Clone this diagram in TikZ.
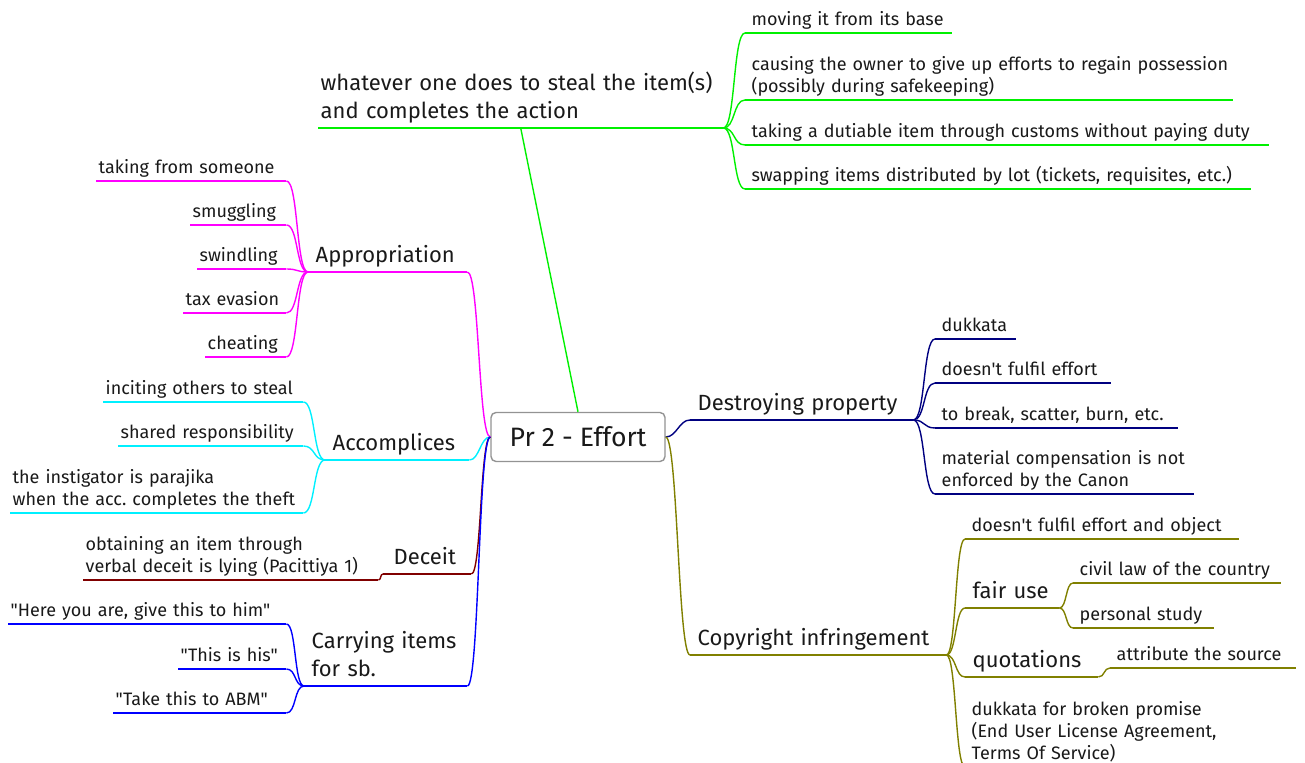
\documentclass[tikz,border=0pt]{standalone}
\usepackage{fontspec}
\newfontfamily\mapfont{Fira Sans}
\usepackage{tikz}
\usetikzlibrary{calc}
\frenchspacing

\definecolor{grn}{RGB}{0,240,0}
\definecolor{mag}{RGB}{255,0,255}
\definecolor{cyn}{RGB}{0,240,255}
\definecolor{drd}{RGB}{128,0,0}
\definecolor{blu}{RGB}{0,0,255}
\definecolor{nvy}{RGB}{0,0,128}
\definecolor{olv}{RGB}{128,128,0}

\begin{document}
\begin{tikzpicture}[x=0.5pt, y=-0.5pt, line width=0.7pt,
  ind/.style={execute at begin node={\leftskip=#1}},
  leaf/.style={inner xsep=1pt, inner ysep=0.3pt, anchor=south west, align=left,
    text=black!90, font=\mapfont\fontsize{9}{11}\selectfont, execute at end node=\strut},
  rleaf/.style={leaf, ind=2pt},
  mid/.style={leaf, ind=2.5pt, font=\mapfont\fontsize{11}{14}\selectfont},
  root/.style={draw=gray!85, rounded corners=2.5pt, fill=white, text=black!90,
    minimum width=87pt, minimum height=24.5pt, font=\mapfont\fontsize{13.3}{16}\selectfont}]
  \useasboundingbox (0,0) rectangle (1305,763);
  % centre
  \node[root] (root) at (578,437) {Pr 2 - Effort};
  % top branch
  \node[mid, ind=0pt, text width=200pt] (wh) at (318,128) {whatever one does to steal the item(s)\\and completes the action};
  \node[rleaf, text width=101pt]   (g1) at (745,33)  {moving it from its base};
  \node[rleaf, text width=241.5pt] (g2) at (745,100) {causing the owner to give up efforts to regain possession\\(possibly during safekeeping)};
  \node[rleaf, text width=259.5pt] (g3) at (745,145) {taking a dutiable item through customs without paying duty};
  \node[rleaf, text width=250.5pt] (g4) at (745,189) {swapping items distributed by lot (tickets, requisites, etc.)};
  % left branches
  \node[mid, text width=77pt]    (ap) at (308,272) {Appropriation};
  \node[leaf, text width=92.5pt] (m1) at (96,181)  {taking from someone};
  \node[leaf, text width=45.5pt] (m2) at (190,225) {smuggling};
  \node[leaf, text width=42pt]   (m3) at (197,269) {swindling};
  \node[leaf, text width=49pt]   (m4) at (183,313) {tax evasion};
  \node[leaf, text width=38pt]   (m5) at (205,357) {cheating};
  \node[mid, text width=69.5pt]  (ac) at (325,460) {Accomplices};
  \node[leaf, text width=97.5pt] (c1) at (103,402) {inciting others to steal};
  \node[leaf, text width=90pt]   (c2) at (118,446) {shared responsibility};
  \node[leaf, text width=144pt]  (c3) at (10,513)  {the instigator is parajika\\when the acc. completes the theft};
  \node[mid, ind=4pt, text width=41.5pt] (de) at (383,574) {Deceit};
  \node[leaf, text width=145pt]  (d1) at (83,580)  {obtaining an item through\\verbal deceit is lying (Pacittiya 1)};
  \node[mid, text width=79pt]    (ca) at (304,686) {Carrying items\\for sb.};
  \node[leaf, text width=136.5pt] (b1) at (8,624)  {"Here you are, give this to him"};
  \node[leaf, text width=51.5pt]  (b2) at (178,669) {"This is his"};
  \node[leaf, text width=84pt]    (b3) at (113,713) {"Take this to ABM"};
  % right branches
  \node[mid, text width=109pt]   (dp) at (690,420) {Destroying property};
  \node[rleaf, text width=38pt]    (n1) at (935,339) {dukkata};
  \node[rleaf, text width=85.5pt]  (n2) at (935,383) {doesn't fulfil effort};
  \node[rleaf, text width=119pt]   (n3) at (935,428) {to break, scatter, burn, etc.};
  \node[rleaf, text width=127pt]   (n4) at (935,494) {material compensation is not\\enforced by the Canon};
  \node[mid, text width=125.5pt] (ci) at (690,655) {Copyright infringement};
  \node[rleaf, text width=134.5pt] (o1) at (965,539) {doesn't fulfil effort and object};
  \node[mid, text width=44.5pt]    (o2) at (965,608) {fair use};
  \node[rleaf, text width=101.5pt] (o21) at (1073,583) {civil law of the country};
  \node[rleaf, text width=68pt]    (o22) at (1073,628) {personal study};
  \node[mid, text width=64pt]      (o3) at (965,677) {quotations};
  \node[rleaf, text width=90.5pt]  (o31) at (1110,668) {attribute the source};
  \node[rleaf, text width=131.5pt] (o4) at (965,767) {dukkata for broken promise\\(End User License Agreement,\\Terms Of Service)};
  % underlines
  \foreach \c in {wh,g1,g2,g3,g4} \draw[grn] (\c.south west) -- (\c.south east);
  \foreach \c in {ap,m1,m2,m3,m4,m5} \draw[mag] (\c.south west) -- (\c.south east);
  \foreach \c in {ac,c1,c2,c3} \draw[cyn] (\c.south west) -- (\c.south east);
  \foreach \c in {de,d1} \draw[drd] (\c.south west) -- (\c.south east);
  \foreach \c in {ca,b1,b2,b3} \draw[blu] (\c.south west) -- (\c.south east);
  \foreach \c in {dp,n1,n2,n3,n4} \draw[nvy] (\c.south west) -- (\c.south east);
  \foreach \c in {ci,o1,o2,o21,o22,o3,o31,o4} \draw[olv] (\c.south west) -- (\c.south east);
  % links from the centre
  \draw[grn] (root.north) -- (wh.south);
  \draw[mag] (root.west) .. controls +(-12,0) and +(12,0) .. (ap.south east);
  \draw[cyn] (root.west) .. controls +(-10,0) and +(10,0) .. (ac.south east);
  \draw[drd] (root.west) .. controls +(-10,0) and +(10,0) .. (de.south east);
  \draw[blu] (root.west) .. controls +(-12,0) and +(12,0) .. (ca.south east);
  \draw[nvy] (root.east) .. controls +(11,0) and +(-11,0) .. (dp.south west);
  \draw[olv] (root.east) .. controls +(12,0) and +(-12,0) .. (ci.south west);
  % links to the leaves
  \foreach \c in {g1,g2,g3,g4} \draw[grn] (wh.south east) .. controls +(12,0) and +(-12,0) .. (\c.south west);
  \foreach \c in {m1,m2,m3,m4,m5} \draw[mag] (ap.south west) .. controls +(-12,0) and +(12,0) .. (\c.south east);
  \foreach \c in {c1,c2,c3} \draw[cyn] (ac.south west) .. controls +(-12,0) and +(12,0) .. (\c.south east);
  \draw[drd] (de.south west) .. controls +(-3,0) and +(3,0) .. (d1.south east);
  \foreach \c in {b1,b2,b3} \draw[blu] (ca.south west) .. controls +(-10,0) and +(10,0) .. (\c.south east);
  \foreach \c in {n1,n2,n3,n4} \draw[nvy] (dp.south east) .. controls +(12,0) and +(-12,0) .. (\c.south west);
  \foreach \c in {o1,o2,o3,o4} \draw[olv] (ci.south east) .. controls +(10,0) and +(-10,0) .. (\c.south west);
  \foreach \c in {o21,o22} \draw[olv] (o2.south east) .. controls +(7.5,0) and +(-7.5,0) .. (\c.south west);
  \draw[olv] (o3.south east) .. controls +(6.5,0) and +(-6.5,0) .. (o31.south west);
\end{tikzpicture}
\end{document}
